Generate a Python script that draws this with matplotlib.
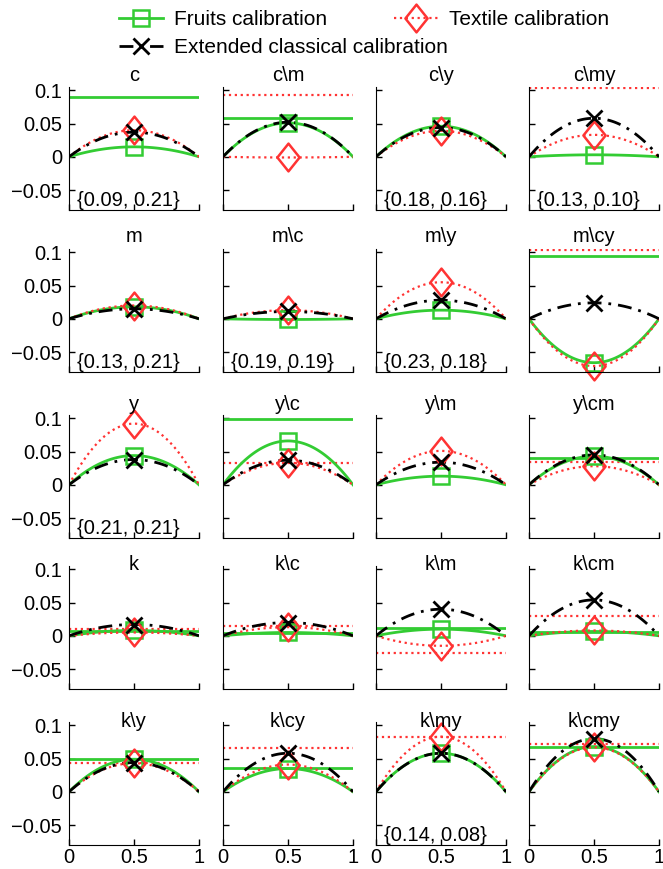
import numpy as np
import matplotlib.pyplot as plt
from matplotlib.path import Path
from matplotlib.lines import Line2D

plt.rcParams['font.family'] = ['Liberation Sans', 'DejaVu Sans']
plt.rcParams['font.size'] = 14.5

# panel names, row by row
titles = ['c', 'c\\m', 'c\\y', 'c\\my',
          'm', 'm\\c', 'm\\y', 'm\\cy',
          'y', 'y\\c', 'y\\m', 'y\\cm',
          'k', 'k\\c', 'k\\m', 'k\\cm',
          'k\\y', 'k\\cy', 'k\\my', 'k\\cmy']

# error at t = 0.5 for each calibration
fruits_peak = [0.015, 0.051, 0.046, 0.003,
               0.018, -0.001, 0.013, -0.066,
               0.044, 0.066, 0.013, 0.043,
               0.008, 0.005, 0.010, 0.0065,
               0.049, 0.035, 0.058, 0.068]
textile_peak = [0.040, -0.001, 0.039, 0.033,
                0.020, 0.013, 0.055, -0.071,
                0.092, 0.033, 0.051, 0.028,
                0.005, 0.013, -0.015, 0.008,
                0.043, 0.041, 0.083, 0.067]
classical_peak = [0.037, 0.052, 0.044, 0.058,
                  0.015, 0.011, 0.028, 0.024,
                  0.038, 0.037, 0.034, 0.045,
                  0.017, 0.020, 0.040, 0.054,
                  0.044, 0.058, 0.058, 0.080]

# constant levels (nan = not drawn)
fruits_level = [0.09, 0.058, 0.18, 0.13,
                0.13, 0.19, 0.23, 0.094,
                0.21, 0.0995, np.nan, 0.040,
                0.0075, 0.004, 0.011, 0.005,
                0.0495, 0.036, 0.14, 0.068]
textile_level = [0.21, 0.093, 0.16, 0.103,
                 0.21, 0.19, 0.18, 0.1035,
                 0.21, 0.033, np.nan, 0.035,
                 0.010, 0.015, -0.026, 0.030,
                 0.044, 0.066, 0.083, 0.072]

W, H = 663, 869
fig = plt.figure(figsize=(W / 100, H / 100), dpi=100)

col_left = [69, 223, 376, 529]
row_bottom = [210, 372, 538, 689, 845]
title_base = [81, 242, 410, 570, 727]
ax_w, ax_h = 130, 123
ylo, yhi = -0.08, 0.105

green = '#33cc33'
red = '#ff3333'
dashdot = (0, (5, 2.5, 1, 2.5))
diamond = Path([(0, 1), (0.8, 0), (0, -1), (-0.8, 0), (0, 1)],
               [Path.MOVETO, Path.LINETO, Path.LINETO, Path.LINETO, Path.CLOSEPOLY])

t = np.linspace(0, 1, 101)
arch = 4 * t * (1 - t)

for i, name in enumerate(titles):
    r, c = divmod(i, 4)
    ax = fig.add_axes([col_left[c] / W, 1 - row_bottom[r] / H, ax_w / W, ax_h / H])

    if not np.isnan(fruits_level[i]):
        ax.axhline(fruits_level[i], color=green, lw=2)
    if not np.isnan(textile_level[i]):
        ax.axhline(textile_level[i], color=red, lw=1.6, ls=':')

    ax.plot(t, fruits_peak[i] * arch, color=green, lw=2)
    ax.plot(t, textile_peak[i] * arch, color=red, lw=1.6, ls=':')
    ax.plot(t, classical_peak[i] * arch, color='k', lw=2, ls=dashdot)

    ax.plot(0.5, fruits_peak[i], marker='s', ms=12, mfc='none', mec=green, mew=1.8, clip_on=False)
    ax.plot(0.5, textile_peak[i], marker=diamond, ms=20, mfc='none', mec=red, mew=1.8, clip_on=False)
    ax.plot(0.5, classical_peak[i], marker='x', ms=11, mec='k', mew=2, clip_on=False)

    ax.set_xlim(0, 1)
    ax.set_ylim(ylo, yhi)
    ax.spines['top'].set_visible(False)
    ax.spines['right'].set_visible(False)
    ax.set_xticks([0, 0.5, 1])
    ax.set_yticks([-0.05, 0, 0.05, 0.1])
    ax.tick_params(direction='in', length=4, width=1)
    ax.tick_params(axis='y', pad=5)
    ax.tick_params(axis='x', pad=2)
    if c == 0:
        ax.set_yticklabels(['\u22120.05', '0', '0.05', '0.1'])
    else:
        ax.tick_params(labelleft=False)
    if r == 4:
        ax.set_xticklabels(['0', '0.5', '1'])
    else:
        ax.tick_params(labelbottom=False)

    fig.text((col_left[c] + ax_w / 2) / W, 1 - title_base[r] / H, name,
             ha='center', va='baseline')

    # levels that fall outside the axis are written out
    if fruits_level[i] > yhi or textile_level[i] > yhi:
        ax.text(0.06, 0.03, '{%.2f, %.2f}' % (fruits_level[i], textile_level[i]),
                transform=ax.transAxes, ha='left', va='baseline')

h_fruits = Line2D([], [], color=green, lw=2, marker='s', ms=12, mfc='none', mec=green, mew=1.8)
h_textile = Line2D([], [], color=red, lw=1.6, ls=':', marker=diamond, ms=20, mfc='none', mec=red, mew=1.8)
h_classical = Line2D([], [], color='k', lw=2, ls=dashdot, marker='x', ms=11, mew=2)

leg_kw = dict(loc='upper left', frameon=False, borderpad=0, borderaxespad=0,
              handlelength=2.1, handletextpad=0.55, fontsize=15)
fig.legend([h_fruits, h_textile], ['Fruits calibration', 'Textile calibration'],
           ncol=2, columnspacing=3.2, bbox_to_anchor=(119 / W, 1 - 10 / H), **leg_kw)
fig.legend([h_classical], ['Extended classical calibration'],
           bbox_to_anchor=(119 / W, 1 - 38 / H), **leg_kw)

fig.savefig('out.png', dpi=100)
